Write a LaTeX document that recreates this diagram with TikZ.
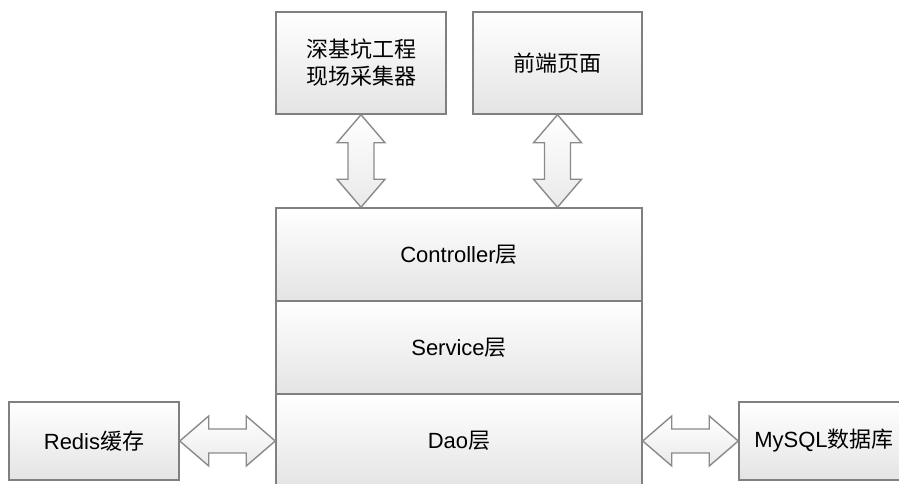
\documentclass[tikz,border=0pt]{standalone}
\usepackage{fontspec}
\setmainfont{Liberation Sans}
\newfontfamily\cjk{Noto Sans CJK SC}
\usetikzlibrary{calc}
\definecolor{edgegray}{HTML}{808080}
\definecolor{arrowgray}{HTML}{8A8A8A}
\definecolor{fillbot}{HTML}{E4E4E4}
\tikzset{
  box/.style={draw=edgegray, line width=1.5pt, top color=white, bottom color=fillbot,
    rectangle, inner sep=0pt, align=center,
    font=\fontsize{22}{27}\selectfont},
  arrowbody/.style={draw=arrowgray, line width=1.4pt, line join=miter, top color=white, bottom color=fillbot!80}
}
% vertical two-headed block arrow between two points
\newcommand{\vdblarrow}[2]{%
  \path[arrowbody] let \p1=(#1), \p2=(#2) in
    (\x1,\y1) -- (\x1+24pt,\y1-28pt) -- (\x1+13pt,\y1-28pt) -- (\x1+13pt,\y2+28pt)
    -- (\x1+24pt,\y2+28pt) -- (\x1,\y2) -- (\x1-24pt,\y2+28pt) -- (\x1-13pt,\y2+28pt)
    -- (\x1-13pt,\y1-28pt) -- (\x1-24pt,\y1-28pt) -- cycle;}
% horizontal two-headed block arrow between two points
\newcommand{\hdblarrow}[2]{%
  \path[arrowbody] let \p1=(#1), \p2=(#2) in
    (\x1,\y1) -- (\x1+29pt,\y1+25pt) -- (\x1+29pt,\y1+12pt) -- (\x2-29pt,\y1+12pt)
    -- (\x2-29pt,\y1+25pt) -- (\x2,\y1) -- (\x2-29pt,\y1-25pt) -- (\x2-29pt,\y1-12pt)
    -- (\x1+29pt,\y1-12pt) -- (\x1+29pt,\y1-25pt) -- cycle;}
\begin{document}
\begin{tikzpicture}[x=1pt,y=1pt]
\useasboundingbox (0,0) rectangle (899,484);
\clip (0,0) rectangle (899,484);

% top sources
\node[box, minimum width=170pt, minimum height=102pt] (site) at (361,421)
  {\cjk 深基坑工程\\\cjk 现场采集器};
\node[box, minimum width=169pt, minimum height=102pt] (web) at (557.5,421)
  {\cjk 前端页面};

% layered back end
\node[box, minimum width=366pt, minimum height=93pt] (ctrl) at (459,229.5)
  {Controller{\cjk 层}};
\node[box, minimum width=366pt, minimum height=93pt] (svc) at (459,136.5)
  {Service{\cjk 层}};
\node[box, minimum width=366pt, minimum height=94pt] (dao) at (459,43)
  {Dao{\cjk 层}};

% storage
\node[box, minimum width=170pt, minimum height=78pt] (redis) at (94,43)
  {Redis{\cjk 缓存}};
\node[box, minimum width=170pt, minimum height=78pt] (mysql) at (824,43)
  {MySQL{\cjk 数据库}};

% connectors
\vdblarrow{site.south}{site.south |- ctrl.north}
\vdblarrow{web.south}{web.south |- ctrl.north}
\hdblarrow{redis.east}{dao.west}
\hdblarrow{dao.east}{mysql.west}
\end{tikzpicture}
\end{document}
